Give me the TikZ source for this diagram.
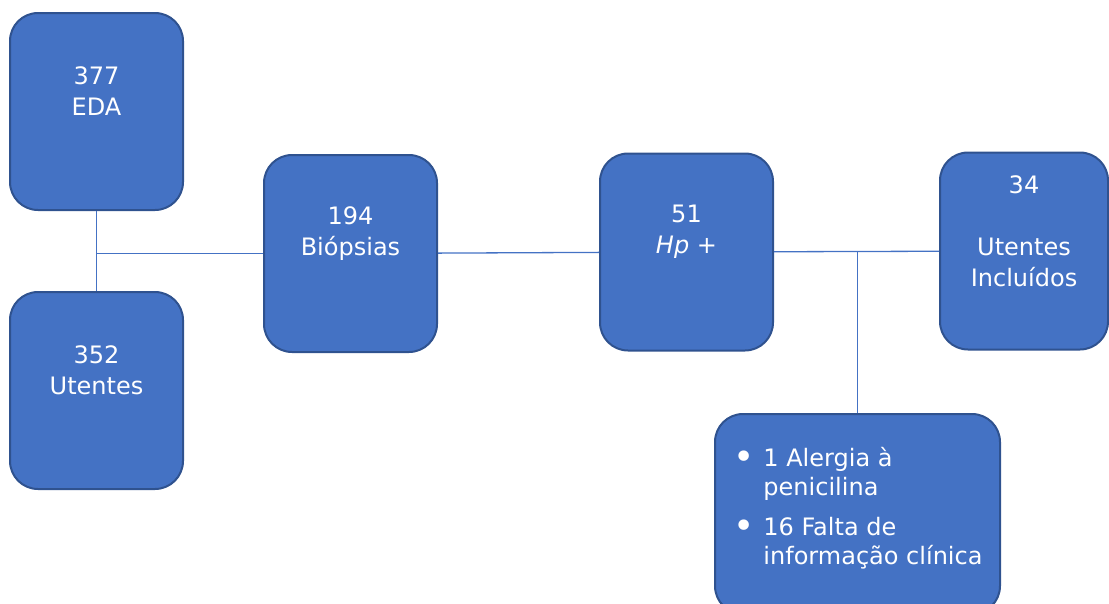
\documentclass[tikz,border=0pt]{standalone}
\usepackage{fontspec}
\setmainfont{DejaVu Sans}
\usetikzlibrary{positioning}
\definecolor{boxblue}{HTML}{4472C4}
\definecolor{edgeblue}{HTML}{2F528F}
\newcommand{\listdot}{\raisebox{-3pt}{\fontsize{36}{29}\selectfont•}}
\tikzset{
  box/.style={draw=edgeblue,line width=2pt,fill=boxblue,rounded corners=28pt,
              minimum width=173pt,minimum height=197pt,inner sep=0pt},
  boxtext/.style={text=white,align=center,inner sep=0pt,yshift=20pt,
                  font=\fontsize{24}{31}\selectfont},
  listtext/.style={text=white,inner sep=0pt,anchor=north west,
                   font=\fontsize{24}{29}\selectfont},
  link/.style={draw=boxblue,line width=1.3pt}
}

\begin{document}
\begin{tikzpicture}[x=1pt,y=-1pt]
  \useasboundingbox (0,0) rectangle (1109,603);
  \clip (0,0) rectangle (1109,603);
  % boxes
  \node[box] (eda) at (96.5,111.5) {};
  \node[box] (ute) at (96.5,390.5) {};
  \node[box] (bio) at (350.5,253.5) {};
  \node[box] (hp) at (686.5,252) {};
  \node[box,minimum width=168pt] (inc) at (1024,251) {};
  \node[box,minimum width=285pt,minimum height=200pt] (excl) at (857.5,514) {};
  % texts
  \node[boxtext] (eda-txt) at (eda.center) {377\\EDA};
  \node[boxtext] (ute-txt) at (ute.center) {352\\Utentes};
  \node[boxtext] (bio-txt) at (bio.center) {194\\Biópsias};
  \node[boxtext] (hp-txt) at (hp.center) {51\\\textit{Hp} +};
  \node[boxtext] (inc-txt) at (inc.center) {34\\[31pt]Utentes\\Incluídos};
  \node[listtext] (excl-txt) at (733,446) {%
    \begin{tabular}{@{}l@{\hspace{9pt}}l@{}}
      \listdot & 1 Alergia à\\
        & penicilina\\[11pt]
      \listdot & 16 Falta de\\
        & informação clínica
    \end{tabular}};
  % connectors
  \coordinate (j1) at (eda.south |- bio.west);
  \draw[link] (eda) -- (ute);
  \draw[link] (j1) -- (bio);
  \draw[link] (bio) -- (hp);
  \draw[link] (hp) -- (inc);
  \coordinate (j2) at (excl.north |- hp.east);
  \draw[link] (j2) -- (excl);
\end{tikzpicture}
\end{document}
